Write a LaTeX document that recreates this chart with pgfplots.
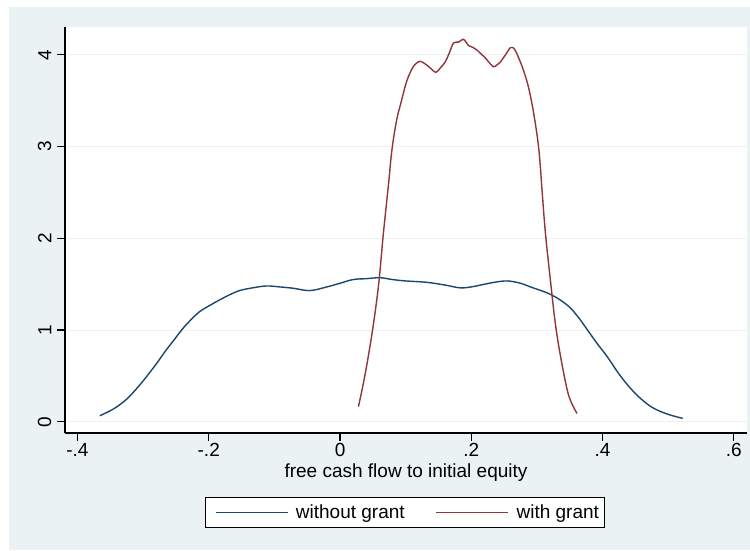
\documentclass[border=0pt]{standalone}
\usepackage{fontspec}
\setmainfont{Liberation Sans}
\usepackage{pgfplots}
\pgfplotsset{compat=1.18}
\definecolor{bgcol}{HTML}{EAF2F3}
\definecolor{navy}{HTML}{1A476F}
\definecolor{maroon}{HTML}{90353B}
\begin{document}
\begin{tikzpicture}[font=\fontsize{19bp}{22bp}\selectfont]
\fill[white] (-65bp,-118bp) rectangle (685bp,433bp);
\fill[bgcol] (-56bp,-117bp) rectangle (685bp,426bp);
\begin{axis}[
  scale only axis,
  width=682bp, height=406bp,
  xmin=-0.419, xmax=0.620,
  ymin=-0.123, ymax=4.304,
  axis x line*=bottom, axis y line*=left,
  axis line style={-, black, line width=1.3bp},
  axis background/.style={fill=white},
  tick align=outside,
  major tick length=7.5bp,
  tick style={black, line width=1.1bp},
  xtick={-0.4,-0.2,0,0.2,0.4,0.6},
  xticklabels={-.4,-.2,0,.2,.4,.6},
  ytick={0,1,2,3,4},
  yticklabels={0,1,2,3,4},
  ymajorgrids,
  major grid style={bgcol, line width=1bp},
  xticklabel style={inner sep=3bp},
  yticklabel style={rotate=90, anchor=south, inner sep=6bp},
  /pgf/number format/assume math mode=true,
  xlabel={free cash flow to initial equity},
  xlabel style={at={(axis description cs:0.5,0)}, anchor=north, inner sep=0pt, yshift=-31bp},
  legend columns=2,
  legend image code/.code={\path (0bp,0bp); \draw[#1] (6bp,0bp) -- (78bp,0bp);},
  legend style={at={(0.4985,-0.1958)}, anchor=center, draw=black, line width=1.2bp, fill=white,
    inner xsep=3.5bp, inner ysep=5bp,
    /tikz/every odd column/.append style={column sep=5.5bp},
    /tikz/every even column/.append style={column sep=23bp}},
  legend cell align=left,
]
\addplot[navy, line width=1.4bp, smooth, tension=0.6] coordinates {
(-0.366,0.065) (-0.345,0.14) (-0.326,0.24) (-0.31,0.36) (-0.295,0.49)
(-0.28,0.63) (-0.265,0.78) (-0.252,0.90) (-0.239,1.02) (-0.226,1.12)
(-0.214,1.20) (-0.198,1.27) (-0.183,1.33) (-0.168,1.385) (-0.153,1.43)
(-0.133,1.46) (-0.112,1.48) (-0.092,1.47) (-0.071,1.455) (-0.046,1.43)
(-0.02,1.47) (0.0,1.51) (0.02,1.55) (0.04,1.56) (0.061,1.57)
(0.08,1.55) (0.1,1.535) (0.132,1.52) (0.16,1.49) (0.183,1.46)
(0.2,1.47) (0.214,1.49) (0.235,1.52) (0.255,1.535) (0.275,1.51)
(0.29,1.47) (0.31,1.42) (0.323,1.38) (0.337,1.32) (0.351,1.24)
(0.364,1.13) (0.377,1.0) (0.392,0.85) (0.407,0.71) (0.425,0.52)
(0.443,0.36) (0.46,0.24) (0.478,0.146) (0.5,0.08) (0.522,0.037)
};
\addlegendentry{without grant}
\addplot[maroon, line width=1.4bp, smooth, tension=0.6] coordinates {
(0.028,0.164) (0.0356,0.42) (0.043,0.71) (0.051,1.07) (0.059,1.51)
(0.066,2.05) (0.074,2.6) (0.079,2.96) (0.086,3.28) (0.094,3.51)
(0.101,3.70) (0.109,3.84) (0.115,3.90) (0.122,3.93) (0.13,3.90)
(0.137,3.86) (0.146,3.81) (0.153,3.86) (0.160,3.92) (0.167,4.03)
(0.173,4.13) (0.181,4.14) (0.188,4.17) (0.196,4.10) (0.203,4.08)
(0.209,4.05) (0.215,4.01) (0.221,3.97) (0.228,3.91) (0.234,3.87)
(0.239,3.89) (0.244,3.92) (0.252,4.0) (0.260,4.08) (0.266,4.06)
(0.272,3.97) (0.28,3.82) (0.288,3.62) (0.296,3.32) (0.303,2.96)
(0.308,2.5) (0.313,2.05) (0.321,1.51) (0.328,1.07) (0.336,0.71)
(0.346,0.35) (0.353,0.2) (0.361,0.09)
};
\addlegendentry{with grant}
\end{axis}
\pgfresetboundingbox
\useasboundingbox (-65bp,-118bp) rectangle (685bp,433bp);
\end{tikzpicture}
\end{document}
